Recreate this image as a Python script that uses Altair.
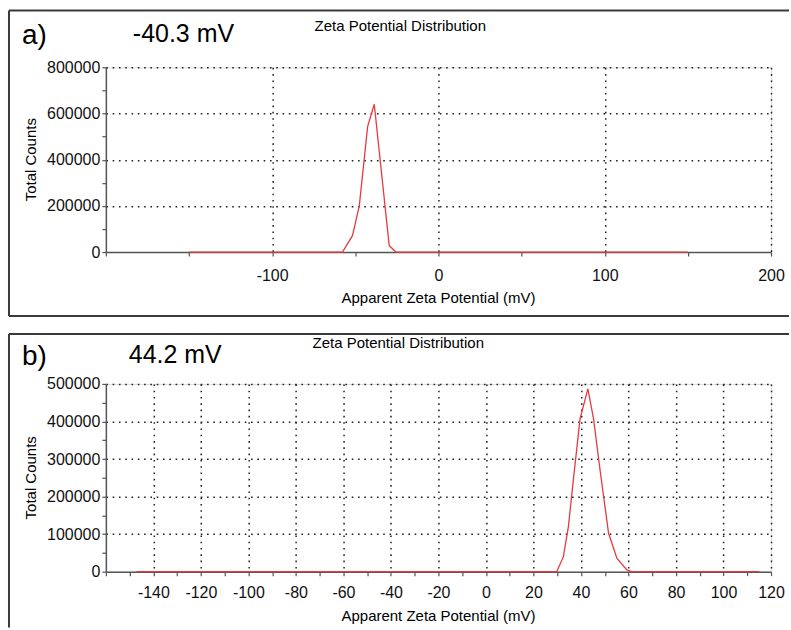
import altair as alt
import pandas as pd

# ---------------- data ----------------
a_x = [-150, -57.7, -51.7, -47.6, -42.6, -38.6, -29.6, -25.6, 150]
a_y = [0, 0, 71000, 200000, 543000, 640000, 28000, 0, 0]

b_x = [-147, 29.8, 32.6, 34.7, 36.8, 39.6, 42.9, 45.3, 48.0, 51.6, 55.1, 59.3, 61.4, 115]
b_y = [0, 0, 40000, 120000, 245000, 407000, 487000, 407000, 272000, 103000, 36000, 4500, 0, 0]

a_xticks = list(range(-200, 201, 50))
a_yticks = list(range(0, 800001, 100000))
b_xticks = list(range(-160, 121, 10))
b_yticks = list(range(0, 500001, 50000))

panel_letters = ["a)", "b)"]
panel_values = ["-40.3 mV", "44.2 mV"]
chart_title = "Zeta Potential Distribution"
x_title = "Apparent Zeta Potential (mV)"
y_title = "Total Counts"

FONT = "Liberation Sans"
RED = "#e63a3f"
BOX = "#3a3a3a"
W = 666


def panel(xs, ys, xdom, ydom, xticks, yticks, xstep, ystep, letter, vtext,
          h, box_top, box_bottom, letter_y, value_y, value_x, title_y, title_x,
          xtitle_y, xlab_pad):
    df = pd.DataFrame({"x": xs, "y": ys})
    deco = pd.DataFrame({"k": [0]})
    xmin = xdom[0]
    xtest = f"datum.value % {xstep} === 0 && datum.value !== {xmin}"
    ytest = f"datum.value % {ystep} === 0 && datum.value !== 0"
    x_axis = alt.Axis(
        values=xticks,
        labelExpr=f"({xtest}) ? '' + datum.value : ''",
        title=None,
        grid=True,
        gridOpacity={"condition": {"test": xtest, "value": 1}, "value": 0},
        labelPadding=xlab_pad,
        labelFlush=False,
        labelOverlap=False,
    )
    y_axis = alt.Axis(
        values=yticks,
        labelExpr=f"(datum.value % {ystep} === 0) ? '' + datum.value : ''",
        title=None,
        grid=True,
        gridOpacity={"condition": {"test": ytest, "value": 1}, "value": 0},
        labelPadding=2,
        labelFlush=False,
        labelOverlap=False,
    )
    line = alt.Chart(df).mark_line(color=RED, strokeWidth=1.3).encode(
        x=alt.X("x:Q", scale=alt.Scale(domain=xdom, nice=False, zero=False), axis=x_axis),
        y=alt.Y("y:Q", scale=alt.Scale(domain=ydom, nice=False, zero=False), axis=y_axis),
    )
    layers = [line]
    # box (top, left, optional bottom)
    layers.append(alt.Chart(deco).mark_rule(color=BOX, strokeWidth=2).encode(
        x=alt.value(-97), x2=alt.value(684), y=alt.value(box_top), y2=alt.value(box_top)))
    layers.append(alt.Chart(deco).mark_rule(color=BOX, strokeWidth=2).encode(
        x=alt.value(-97), x2=alt.value(-97), y=alt.value(box_top), y2=alt.value(box_bottom)))
    if letter == "a)":
        layers.append(alt.Chart(deco).mark_rule(color=BOX, strokeWidth=2).encode(
            x=alt.value(-97), x2=alt.value(684), y=alt.value(box_bottom), y2=alt.value(box_bottom)))
    layers.append(alt.Chart(deco).mark_text(
        text=letter, font=FONT, fontSize=28, align="left", baseline="alphabetic", color="black"
    ).encode(x=alt.value(-84), y=alt.value(letter_y)))
    layers.append(alt.Chart(deco).mark_text(
        text=vtext, font=FONT, fontSize=25, align="left", baseline="alphabetic", color="black"
    ).encode(x=alt.value(value_x), y=alt.value(value_y)))
    layers.append(alt.Chart(deco).mark_text(
        text=chart_title, font=FONT, fontSize=15, align="left", baseline="alphabetic", color="black"
    ).encode(x=alt.value(title_x), y=alt.value(title_y)))
    layers.append(alt.Chart(deco).mark_text(
        text=x_title, font=FONT, fontSize=15, align="center", baseline="alphabetic", color="black"
    ).encode(x=alt.value(W / 2), y=alt.value(xtitle_y)))
    layers.append(alt.Chart(deco).mark_text(
        text=y_title, font=FONT, fontSize=15, align="center", baseline="middle", angle=270,
        color="black"
    ).encode(x=alt.value(-75), y=alt.value(h / 2)))
    return alt.layer(*layers).properties(width=W, height=h)


pa = panel(a_x, a_y, [-200, 200], [0, 800000], a_xticks, a_yticks, 100, 200000,
           panel_letters[0], panel_values[0], h=185, box_top=-57, box_bottom=249,
           letter_y=-23, value_y=-25, value_x=27, title_y=-36, title_x=209,
           xtitle_y=236, xlab_pad=11)
pb = panel(b_x, b_y, [-160, 120], [0, 500000], b_xticks, b_yticks, 20, 100000,
           panel_letters[1], panel_values[1], h=188, box_top=-50, box_bottom=244,
           letter_y=-19, value_y=-21, value_x=23, title_y=-36, title_x=207,
           xtitle_y=237, xlab_pad=9)

chart = alt.vconcat(pa, pb, spacing=14).properties(
    padding={"left": 7, "top": 8, "right": 0, "bottom": 0}
).configure_view(stroke=None).configure(background="white").configure_axis(
    domainColor="#555", domainWidth=1.5, tickColor="#555", tickSize=4, tickWidth=1.2,
    labelFont=FONT, labelFontSize=16, labelColor="#111",
    gridColor="#222", gridDash=[1.6, 4.7], gridWidth=1.5,
)

chart.save("out.html", embed_options={"renderer": "svg", "actions": False})
